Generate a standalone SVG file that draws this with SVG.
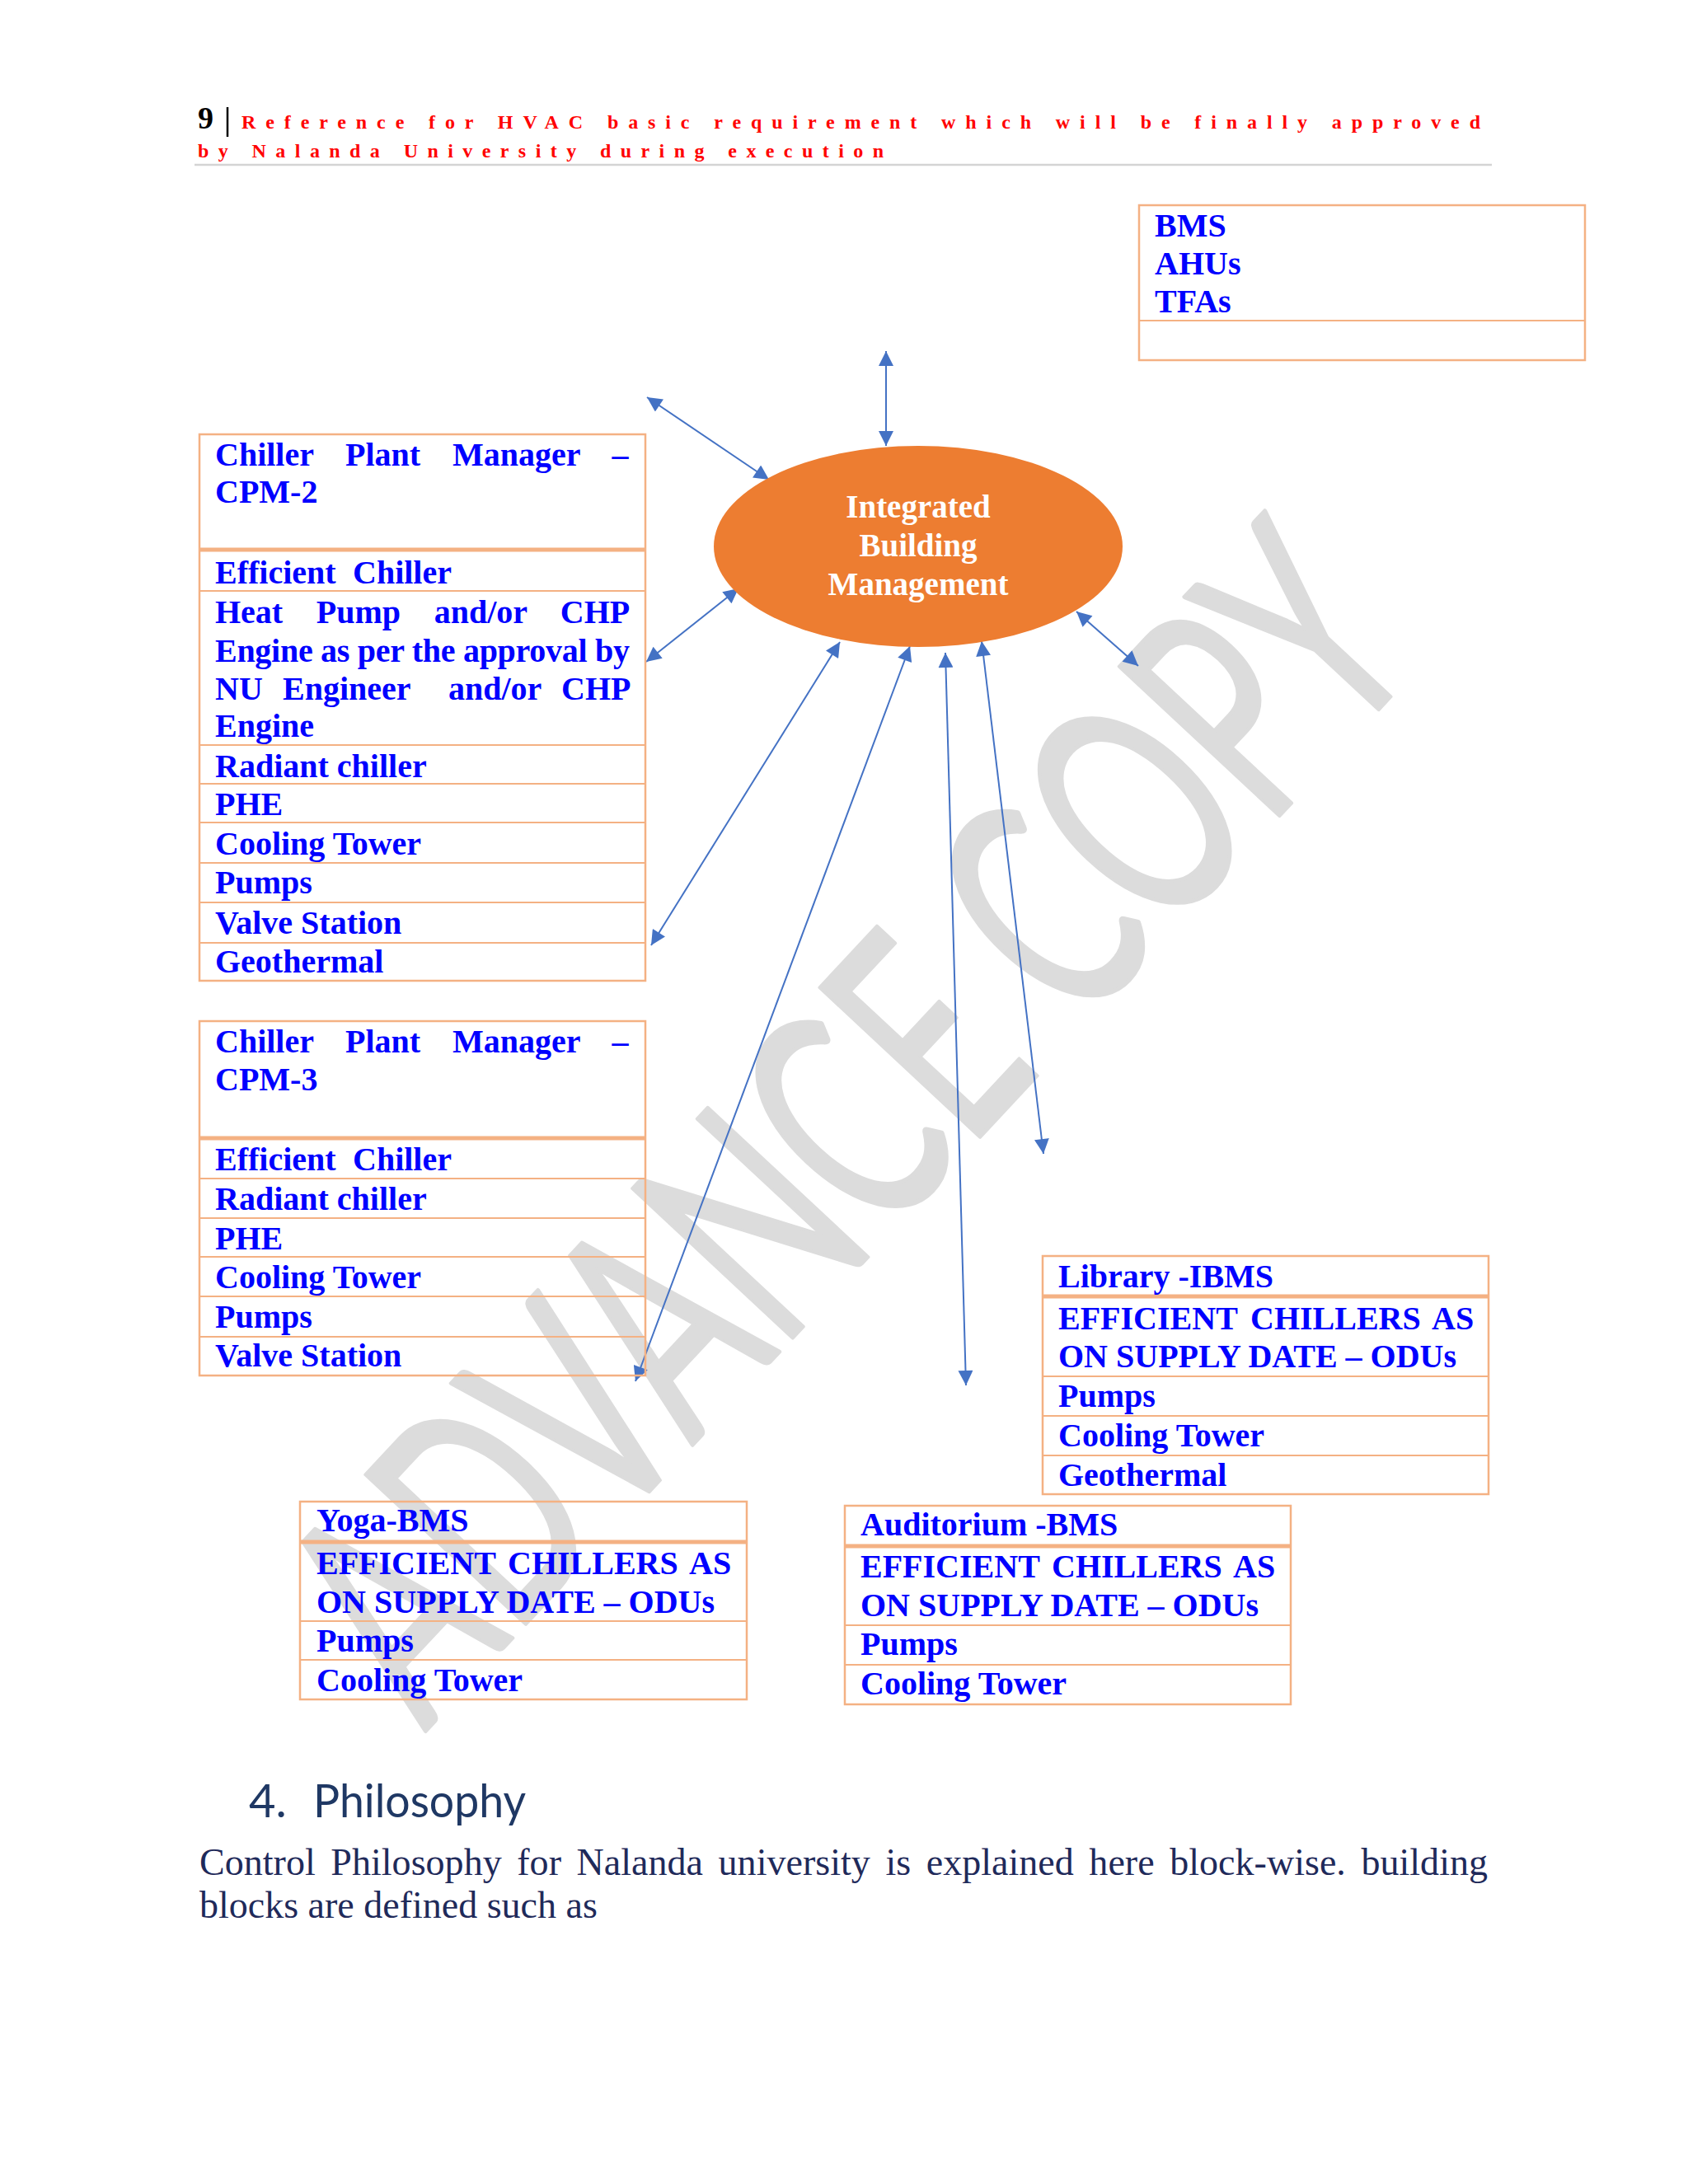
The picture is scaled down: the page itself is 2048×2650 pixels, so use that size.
<svg xmlns="http://www.w3.org/2000/svg" width="2048" height="2650" viewBox="0 0 2048 2650">
<defs>
<marker id="ah" viewBox="0 0 10 10" refX="10" refY="5" markerWidth="19" markerHeight="18" markerUnits="userSpaceOnUse" orient="auto-start-reverse">
<path d="M0,0 L10,5 L0,10 z" fill="#4472C4"/>
</marker>
<style>
.box{fill:none;stroke:#F4B183;stroke-width:2.5}
.ln{stroke:#F4B183;stroke-width:2}
.thick{stroke:#F4B183;stroke-width:5}
.t{font-family:"Liberation Serif","Times New Roman",serif;font-weight:bold;fill:#0000FF;font-size:40px}
.conn{stroke:#4472C4;stroke-width:2;fill:none;marker-start:url(#ah);marker-end:url(#ah)}
.hdr{font-family:"Liberation Serif","Times New Roman",serif;font-weight:bold;fill:#FF0000;font-size:24px}
</style>
</defs>
<rect x="0" y="0" width="2048" height="2650" fill="#FFFFFF"/>

<g id="watermark">
<text x="0" y="133" transform="translate(1025,1360) rotate(-47)" font-family="Lato,'Liberation Sans',sans-serif" font-size="370" fill="#DCDCDC" stroke="#DCDCDC" stroke-width="5" stroke-linejoin="round" text-anchor="middle" textLength="1780" lengthAdjust="spacingAndGlyphs">ADVANCE COPY</text>
</g>

<g id="header">
<text x="240" y="156" font-family="'Liberation Serif','Times New Roman',serif" font-weight="bold" font-size="38" fill="#000000">9</text>
<line x1="276" y1="130" x2="276" y2="166" stroke="#000000" stroke-width="2.5"/>
<text class="hdr" x="293" y="156" textLength="1503" lengthAdjust="spacing">Reference for HVAC basic requirement which will be finally approved</text>
<text class="hdr" x="240" y="191" textLength="832" lengthAdjust="spacing">by Nalanda University during execution</text>
<line x1="236" y1="200" x2="1810" y2="200" stroke="#D4D4D4" stroke-width="2.5"/>
</g>

<g id="connectors">
<line class="conn" x1="1075" y1="426" x2="1075" y2="541"/>
<line class="conn" x1="785" y1="482" x2="933" y2="582"/>
<line class="conn" x1="896" y1="714" x2="784" y2="803"/>
<line class="conn" x1="1306" y1="742" x2="1381" y2="808"/>
<line class="conn" x1="1019" y1="779" x2="790" y2="1147"/>
<line class="conn" x1="1104" y1="784" x2="771" y2="1676"/>
<line class="conn" x1="1147" y1="792" x2="1172" y2="1681"/>
<line class="conn" x1="1191" y1="778" x2="1266" y2="1400"/>
</g>

<g id="ibm">
<ellipse cx="1114" cy="663" rx="248" ry="122" fill="#ED7D31"/>
<text x="1114" y="628" font-family="'Liberation Serif','Times New Roman',serif" font-weight="bold" font-size="39" fill="#FFFFFF" text-anchor="middle">Integrated</text>
<text x="1114" y="675" font-family="'Liberation Serif','Times New Roman',serif" font-weight="bold" font-size="39" fill="#FFFFFF" text-anchor="middle">Building</text>
<text x="1114" y="722" font-family="'Liberation Serif','Times New Roman',serif" font-weight="bold" font-size="39" fill="#FFFFFF" text-anchor="middle">Management</text>
</g>

<g id="bms">
<rect class="box" x="1382" y="249" width="541" height="188"/>
<line class="ln" x1="1382" y1="389" x2="1923" y2="389"/>
<text class="t" x="1401" y="287">BMS</text>
<text class="t" x="1401" y="333">AHUs</text>
<text class="t" x="1401" y="379">TFAs</text>
</g>

<g id="cpm2">
<rect class="box" x="242" y="527" width="541" height="663"/>
<line class="thick" x1="242" y1="667" x2="783" y2="667"/>
<line class="ln" x1="242" y1="717" x2="783" y2="717"/>
<line class="ln" x1="242" y1="904" x2="783" y2="904"/>
<line class="ln" x1="242" y1="951" x2="783" y2="951"/>
<line class="ln" x1="242" y1="998" x2="783" y2="998"/>
<line class="ln" x1="242" y1="1047" x2="783" y2="1047"/>
<line class="ln" x1="242" y1="1095" x2="783" y2="1095"/>
<line class="ln" x1="242" y1="1144" x2="783" y2="1144"/>
<text class="t" x="261" y="565" word-spacing="28.8">Chiller Plant Manager –</text>
<text class="t" x="261" y="610">CPM-2</text>
<text class="t" y="708"><tspan x="261">Efficient</tspan><tspan x="428">Chiller</tspan></text>
<text class="t" x="261" y="756" word-spacing="30.6">Heat Pump and/or CHP</text>
<text class="t" x="261" y="803" textLength="503" lengthAdjust="spacing">Engine as per the approval by</text>
<text class="t" y="849"><tspan x="261">NU</tspan><tspan x="343">Engineer</tspan><tspan x="544">and/or</tspan><tspan x="681">CHP</tspan></text>
<text class="t" x="261" y="894">Engine</text>
<text class="t" x="261" y="943">Radiant chiller</text>
<text class="t" x="261" y="989">PHE</text>
<text class="t" x="261" y="1037">Cooling Tower</text>
<text class="t" x="261" y="1084">Pumps</text>
<text class="t" x="261" y="1133">Valve Station</text>
<text class="t" x="261" y="1180">Geothermal</text>
</g>

<g id="cpm3">
<rect class="box" x="242" y="1239" width="541" height="430"/>
<line class="thick" x1="242" y1="1381" x2="783" y2="1381"/>
<line class="ln" x1="242" y1="1430" x2="783" y2="1430"/>
<line class="ln" x1="242" y1="1478" x2="783" y2="1478"/>
<line class="ln" x1="242" y1="1525" x2="783" y2="1525"/>
<line class="ln" x1="242" y1="1573" x2="783" y2="1573"/>
<line class="ln" x1="242" y1="1622" x2="783" y2="1622"/>
<text class="t" x="261" y="1277" word-spacing="28.8">Chiller Plant Manager –</text>
<text class="t" x="261" y="1323">CPM-3</text>
<text class="t" y="1420"><tspan x="261">Efficient</tspan><tspan x="428">Chiller</tspan></text>
<text class="t" x="261" y="1468">Radiant chiller</text>
<text class="t" x="261" y="1516">PHE</text>
<text class="t" x="261" y="1563">Cooling Tower</text>
<text class="t" x="261" y="1611">Pumps</text>
<text class="t" x="261" y="1658">Valve Station</text>
</g>

<g id="library">
<rect class="box" x="1265" y="1524" width="541" height="289"/>
<line class="thick" x1="1265" y1="1573" x2="1806" y2="1573"/>
<line class="ln" x1="1265" y1="1670" x2="1806" y2="1670"/>
<line class="ln" x1="1265" y1="1718" x2="1806" y2="1718"/>
<line class="ln" x1="1265" y1="1766" x2="1806" y2="1766"/>
<text class="t" x="1284" y="1562">Library -IBMS</text>
<text class="t" y="1613"><tspan x="1284">EFFICIENT</tspan><tspan x="1517">CHILLERS</tspan><tspan x="1737">AS</tspan></text>
<text class="t" x="1284" y="1659">ON SUPPLY DATE – ODUs</text>
<text class="t" x="1284" y="1707">Pumps</text>
<text class="t" x="1284" y="1755">Cooling Tower</text>
<text class="t" x="1284" y="1803">Geothermal</text>
</g>

<g id="yoga">
<rect class="box" x="364" y="1822" width="542" height="240"/>
<line class="thick" x1="364" y1="1871" x2="906" y2="1871"/>
<line class="ln" x1="364" y1="1967" x2="906" y2="1967"/>
<line class="ln" x1="364" y1="2014" x2="906" y2="2014"/>
<text class="t" x="384" y="1858">Yoga-BMS</text>
<text class="t" y="1910"><tspan x="384">EFFICIENT</tspan><tspan x="616">CHILLERS</tspan><tspan x="836">AS</tspan></text>
<text class="t" x="384" y="1957">ON SUPPLY DATE – ODUs</text>
<text class="t" x="384" y="2004">Pumps</text>
<text class="t" x="384" y="2052">Cooling Tower</text>
</g>

<g id="auditorium">
<rect class="box" x="1025" y="1827" width="541" height="241"/>
<line class="thick" x1="1025" y1="1876" x2="1566" y2="1876"/>
<line class="ln" x1="1025" y1="1972" x2="1566" y2="1972"/>
<line class="ln" x1="1025" y1="2020" x2="1566" y2="2020"/>
<text class="t" x="1044" y="1863">Auditorium -BMS</text>
<text class="t" y="1914"><tspan x="1044">EFFICIENT</tspan><tspan x="1276">CHILLERS</tspan><tspan x="1496">AS</tspan></text>
<text class="t" x="1044" y="1961">ON SUPPLY DATE – ODUs</text>
<text class="t" x="1044" y="2008">Pumps</text>
<text class="t" x="1044" y="2056">Cooling Tower</text>
</g>

<g id="philosophy">
<text x="302" y="2205" font-family="Lato,'Liberation Sans',sans-serif" font-size="56" fill="#1F3864">4.</text>
<text x="380" y="2205" font-family="Lato,'Liberation Sans',sans-serif" font-size="56" fill="#1F3864" textLength="258" lengthAdjust="spacingAndGlyphs">Philosophy</text>
<text x="242" y="2275" font-family="'Liberation Serif','Times New Roman',serif" font-size="46" fill="#1F2A5A" textLength="1563" lengthAdjust="spacing" word-spacing="7">Control Philosophy for Nalanda university is explained here block-wise. building</text>
<text x="242" y="2327" font-family="'Liberation Serif','Times New Roman',serif" font-size="46" fill="#1F2A5A">blocks are defined such as</text>
</g>
</svg>
